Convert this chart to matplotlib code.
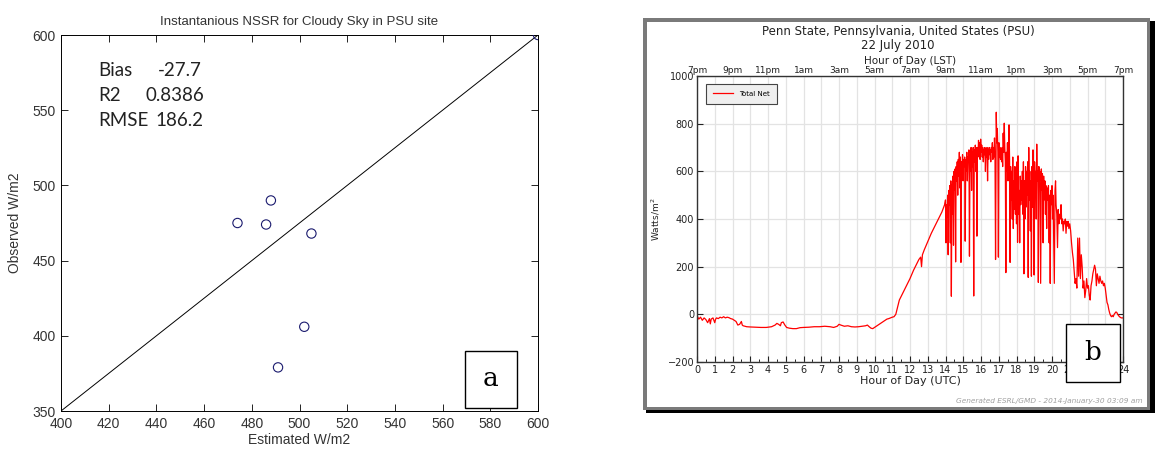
import matplotlib
matplotlib.use("Agg")
import matplotlib.pyplot as plt
from matplotlib.patches import Rectangle

# ---------------- Panel a data ----------------
estimated = [474, 486, 488, 505, 502, 491, 600]
observed = [475, 474, 490, 468, 406, 379, 600]
line_one_to_one = [400, 600]
stats_names = ["Bias", "R2", "RMSE"]
stats_values = ["-27.7", "0.8386", "186.2"]
a_xticks = list(range(400, 601, 20))
a_yticks = list(range(350, 601, 50))

# ---------------- Panel b data ----------------
hours_base = [0.0, 0.1, 0.2, 0.3, 0.4, 0.5, 0.6, 0.7, 0.75, 0.8, 0.9, 1.0, 1.05, 1.1, 1.2, 1.3,
              1.4, 1.5, 1.6, 1.7, 1.8, 1.9, 2.0, 2.1, 2.2, 2.3, 2.4, 2.5, 2.55, 2.6, 2.7, 2.8,
              3.0, 3.3, 3.6, 3.9, 4.2, 4.4, 4.5, 4.6, 4.7, 4.75, 4.85, 4.95, 5.05, 5.2, 5.4,
              5.6, 5.8, 6.0, 6.3, 6.6, 6.9, 7.2, 7.5, 7.7, 7.9, 8.0, 8.1, 8.3, 8.5, 8.7, 8.9,
              9.1, 9.3, 9.5, 9.6, 9.7, 9.8, 9.9, 10.0, 10.2, 10.4, 10.5, 10.6, 10.7, 10.8,
              10.9, 11.0, 11.1, 11.2, 11.3, 11.4, 11.6, 11.8, 12.0, 12.2, 12.4, 12.5, 12.6,
              12.65, 12.7, 12.8, 13.0, 13.2, 13.4, 13.6, 13.8, 13.95]
net_base = [-5, -20, -12, -25, -15, -22, -35, -18, -40, -20, -15, -35, -20, -15, -18, -12,
            -15, -10, -15, -12, -14, -18, -20, -25, -30, -45, -42, -30, -45, -48, -50, -52,
            -53, -54, -55, -55, -52, -45, -38, -42, -48, -35, -32, -45, -55, -58, -60,
            -60, -56, -55, -54, -52, -52, -50, -52, -55, -50, -42, -45, -50, -48, -52, -53,
            -52, -50, -48, -45, -52, -58, -60, -55, -45, -35, -30, -25, -20, -18,
            -15, -12, -10, 0, 30, 60, 90, 120, 150, 185, 215, 230, 240,
            200, 250, 270, 305, 340, 370, 400, 430, 460]

hours_day = [14.00, 14.03, 14.06, 14.09, 14.12, 14.15, 14.18, 14.21, 14.24, 14.27, 14.30, 14.33,
             14.36, 14.39, 14.42, 14.45, 14.48, 14.51, 14.54, 14.57, 14.60, 14.63, 14.66, 14.69,
             14.72, 14.75, 14.78, 14.81, 14.84, 14.87, 14.90, 14.93, 14.96, 14.99, 15.02, 15.05,
             15.08, 15.11, 15.14, 15.17, 15.20, 15.23, 15.26, 15.29, 15.32, 15.35, 15.38, 15.41,
             15.44, 15.47, 15.50, 15.53, 15.56, 15.59, 15.62, 15.65, 15.68, 15.71, 15.74, 15.77,
             15.80, 15.83, 15.86, 15.89, 15.92, 15.95, 15.98, 16.01, 16.04, 16.07, 16.10, 16.13,
             16.16, 16.19, 16.22, 16.25, 16.28, 16.31, 16.34, 16.37, 16.40, 16.43, 16.46, 16.49,
             16.52, 16.55, 16.58, 16.61, 16.64, 16.67, 16.70, 16.73, 16.76, 16.79, 16.82, 16.86,
             16.89, 16.92, 16.95, 16.98, 17.01, 17.04, 17.07, 17.10, 17.13, 17.16, 17.19, 17.22,
             17.25, 17.28, 17.31, 17.34, 17.37, 17.40, 17.43, 17.46, 17.49, 17.52, 17.55, 17.58,
             17.61, 17.64, 17.67, 17.70, 17.73, 17.76, 17.79, 17.82, 17.85, 17.88, 17.91, 17.94,
             17.97, 18.00, 18.03, 18.06, 18.09, 18.12, 18.15, 18.18, 18.21, 18.24, 18.27, 18.30,
             18.33, 18.36, 18.39, 18.42, 18.45, 18.48, 18.51, 18.54, 18.57, 18.60, 18.63, 18.66,
             18.69, 18.72, 18.75, 18.78, 18.81, 18.84, 18.87, 18.90, 18.93, 18.96, 18.99, 19.02,
             19.05, 19.08, 19.11, 19.14, 19.17, 19.20]
net_day = [480, 300, 460, 410, 500, 250, 520, 460, 540, 300, 560, 76,
           545, 420, 580, 290, 600, 520, 610, 220, 620, 560, 640, 500,
           650, 580, 680, 530, 660, 218, 640, 600, 670, 560, 650, 620,
           660, 307, 650, 600, 680, 560, 660, 640, 690, 244, 670, 600,
           700, 520, 680, 620, 700, 77, 690, 640, 710, 600, 700, 328,
           700, 660, 730, 680, 720, 650, 735, 680, 710, 660, 700, 640,
           690, 670, 700, 600, 690, 660, 700, 560, 690, 650, 700, 670,
           690, 640, 700, 680, 720, 650, 700, 660, 740, 650, 230, 848,
           720, 780, 680, 240, 720, 660, 700, 650, 690, 640, 700, 620,
           760, 680, 802, 700, 640, 175, 680, 600, 720, 560, 700, 795,
           650, 218, 620, 480, 600, 400, 660, 360, 560, 440, 620, 420,
           560, 380, 640, 302, 665, 420, 520, 300, 580, 460, 560, 480,
           600, 420, 640, 170, 560, 400, 620, 450, 600, 500, 640, 155,
           700, 480, 600, 350, 560, 160, 620, 450, 690, 500, 165, 640,
           540, 600, 400, 714, 560, 600]

hours_late = [19.23, 19.26, 19.29, 19.32, 19.36, 19.40, 19.43, 19.46, 19.50, 19.53, 19.56, 19.60,
              19.63, 19.66, 19.70, 19.73, 19.76, 19.80, 19.84, 19.87, 19.90, 19.93, 19.96, 20.00,
              20.03, 20.06, 20.10, 20.13, 20.17, 20.20, 20.23, 20.27, 20.31, 20.35, 20.39, 20.43,
              20.47, 20.51, 20.55, 20.59, 20.63, 20.67, 20.71, 20.75, 20.79, 20.83, 20.87, 20.91,
              20.95, 21.00, 21.05, 21.10, 21.15, 21.20, 21.25, 21.30, 21.35, 21.40, 21.45, 21.50,
              21.55, 21.60, 21.65, 21.70, 21.75, 21.80, 21.85, 21.90, 21.95, 22.00, 22.05, 22.10,
              22.15, 22.20, 22.25, 22.30, 22.40, 22.45, 22.50, 22.55, 22.60, 22.65, 22.70, 22.75,
              22.80, 22.85, 22.90, 22.95, 23.00, 23.05, 23.10, 23.15, 23.20, 23.25, 23.30, 23.35,
              23.40, 23.45, 23.50, 23.55, 23.60, 23.65, 23.70, 23.80, 23.90, 24.00]
net_late = [134, 620, 560, 600, 130, 610, 520, 590, 300, 580, 480, 560,
            420, 540, 360, 530, 480, 540, 300, 500, 130, 520, 460, 540,
            400, 500, 300, 130, 520, 560, 460, 420, 280, 440, 380, 420,
            400, 460, 380, 400, 350, 390, 380, 400, 340, 390, 370, 390,
            360, 380, 350, 300, 260, 230, 180, 130, 150, 110, 320, 160,
            320, 150, 250, 200, 110, 140, 70, 100, 150, 110, 120, 80,
            60, 120, 140, 170, 206, 190, 120, 170, 150, 130, 160, 140,
            130, 140, 120, 130, 110, 80, 50, 40, 20, 5, -5, -10,
            -5, -10, 0, 5, 10, 8, 0, -10, -15, -15]

hours = hours_base + hours_day + hours_late
net = net_base + net_day + net_late

utc_ticks = list(range(0, 25))
lst_ticks = list(range(0, 25, 2))
lst_labels = ["7pm", "9pm", "11pm", "1am", "3am", "5am", "7am", "9am", "11am",
              "1pm", "3pm", "5pm", "7pm"]
b_yticks = [-200, 0, 200, 400, 600, 800, 1000]

W, H = 1156, 450
fig = plt.figure(figsize=(W / 100, H / 100), dpi=100)
fig.patch.set_facecolor("white")


def fx(px):
    return px / W


def fy(py):
    return 1 - py / H


# ---------------- Panel a ----------------
axa = fig.add_axes([fx(61), fy(411), fx(538) - fx(61), fy(35) - fy(411)])
axa.plot(line_one_to_one, [350, 600], color="black", lw=0.7)
axa.scatter(estimated, observed, s=45, facecolors="none", edgecolors="#1a1a6e", linewidths=0.8, zorder=3)
axa.set_xlim(400, 600)
axa.set_ylim(350, 600)
axa.set_xticks(a_xticks)
axa.set_yticks(a_yticks)
afont = "Liberation Sans"
for lab in axa.get_xticklabels() + axa.get_yticklabels():
    lab.set_fontfamily(afont)
    lab.set_fontsize(10)
    lab.set_color("#333333")
axa.tick_params(direction="in", top=True, right=True, length=5, width=0.6, pad=4)
for s in axa.spines.values():
    s.set_linewidth(0.7)
axa.set_title("Instantanious NSSR for Cloudy Sky in PSU site", fontfamily=afont, fontsize=9.5,
              color="#333333", pad=7)
axa.set_xlabel("Estimated W/m2", fontfamily=afont, fontsize=10, color="#333333", labelpad=2)
axa.set_ylabel("Observed W/m2", fontfamily=afont, fontsize=10, color="#333333", labelpad=7)
stat_y = [576.5, 559.5, 543]
stat_vx = [440.5, 435.5, 439.5]
for name, val, yy, vx in zip(stats_names, stats_values, stat_y, stat_vx):
    axa.text(415.5, yy, name, fontfamily="Lato", fontsize=13.5, va="center", ha="left", color="#222222")
    axa.text(vx, yy, val, fontfamily="Lato", fontsize=13.5, va="center", ha="left", color="#222222")

fig.add_artist(Rectangle((fx(465), fy(408)), fx(517) - fx(465), fy(351) - fy(408),
                         transform=fig.transFigure, facecolor="white", edgecolor="black", lw=1.0, zorder=5))
fig.text(fx(491), fy(379), "a", fontfamily="DejaVu Serif", fontsize=19, ha="center", va="center", zorder=6)

# ---------------- Panel b frame ----------------
fig.add_artist(Rectangle((fx(646), fy(413)), fx(1155) - fx(646), fy(21) - fy(413),
                         transform=fig.transFigure, facecolor="black", edgecolor="none", zorder=-3))
fig.add_artist(Rectangle((fx(643), fy(410)), fx(1150) - fx(643), fy(18) - fy(410),
                         transform=fig.transFigure, facecolor="#7a7a7a", edgecolor="none", zorder=-2))
fig.add_artist(Rectangle((fx(647), fy(407)), fx(1147) - fx(647), fy(22) - fy(407),
                         transform=fig.transFigure, facecolor="white", edgecolor="none", zorder=-1))

# ---------------- Panel b ----------------
axb = fig.add_axes([fx(697), fy(362), fx(1123) - fx(697), fy(76) - fy(362)])
axb.plot(hours, net, color="red", lw=0.9, label="Total Net")
axb.set_xlim(0, 24)
axb.set_ylim(-200, 1000)
axb.set_xticks(utc_ticks)
axb.set_xticks([h + 0.5 for h in range(24)], minor=True)
axb.set_yticks(b_yticks)
axb.grid(True, which="major", color="#e3e3e3", lw=0.9)
axb.set_axisbelow(True)
axb.tick_params(axis="both", which="major", direction="in", length=4, width=0.8,
                labelsize=7, colors="#222222", pad=2, right=True)
axb.tick_params(axis="x", which="minor", direction="in", length=2, width=0.6)
for s in axb.spines.values():
    s.set_linewidth(1.0)
    s.set_color("#333333")
axb.set_xlabel("Hour of Day (UTC)", fontsize=8, color="#222222", labelpad=1)
axb.set_ylabel("Watts/m$^2$", fontsize=6.5, color="#222222", labelpad=4)
leg = axb.legend(loc="upper left", fontsize=5, frameon=True, fancybox=False,
                 borderpad=1.0, handlelength=3, bbox_to_anchor=(0.012, 0.985))
leg.get_frame().set_facecolor("#efefef")
leg.get_frame().set_edgecolor("#444444")
leg.get_frame().set_linewidth(0.8)
leg.get_frame().set_alpha(1)

axt = axb.twiny()
axt.set_xlim(0, 24)
axt.set_xticks(lst_ticks)
axt.set_xticklabels(lst_labels)
axt.tick_params(axis="x", direction="in", length=0, labelsize=6.5, colors="#222222", pad=1)
axt.set_xlabel("Hour of Day (LST)", fontsize=7.5, color="#222222", labelpad=1)
for s in axt.spines.values():
    s.set_visible(False)

fig.text(fx(898), fy(32), "Penn State, Pennsylvania, United States (PSU)", fontsize=8.5,
         ha="center", va="center", color="#222222")
fig.text(fx(898), fy(46), "22 July 2010", fontsize=8.5, ha="center", va="center", color="#222222")
fig.text(fx(1143), fy(401), "Generated ESRL/GMD - 2014-January-30 03:09 am", fontsize=5.3,
         ha="right", va="center", style="italic", color="#a0a0a0")

fig.add_artist(Rectangle((fx(1066), fy(382)), fx(1120) - fx(1066), fy(324) - fy(382),
                         transform=fig.transFigure, facecolor="white", edgecolor="black", lw=1.0, zorder=5))
fig.text(fx(1093), fy(352), "b", fontfamily="DejaVu Serif", fontsize=19, ha="center", va="center", zorder=6)

fig.savefig("out.png", dpi=100)
